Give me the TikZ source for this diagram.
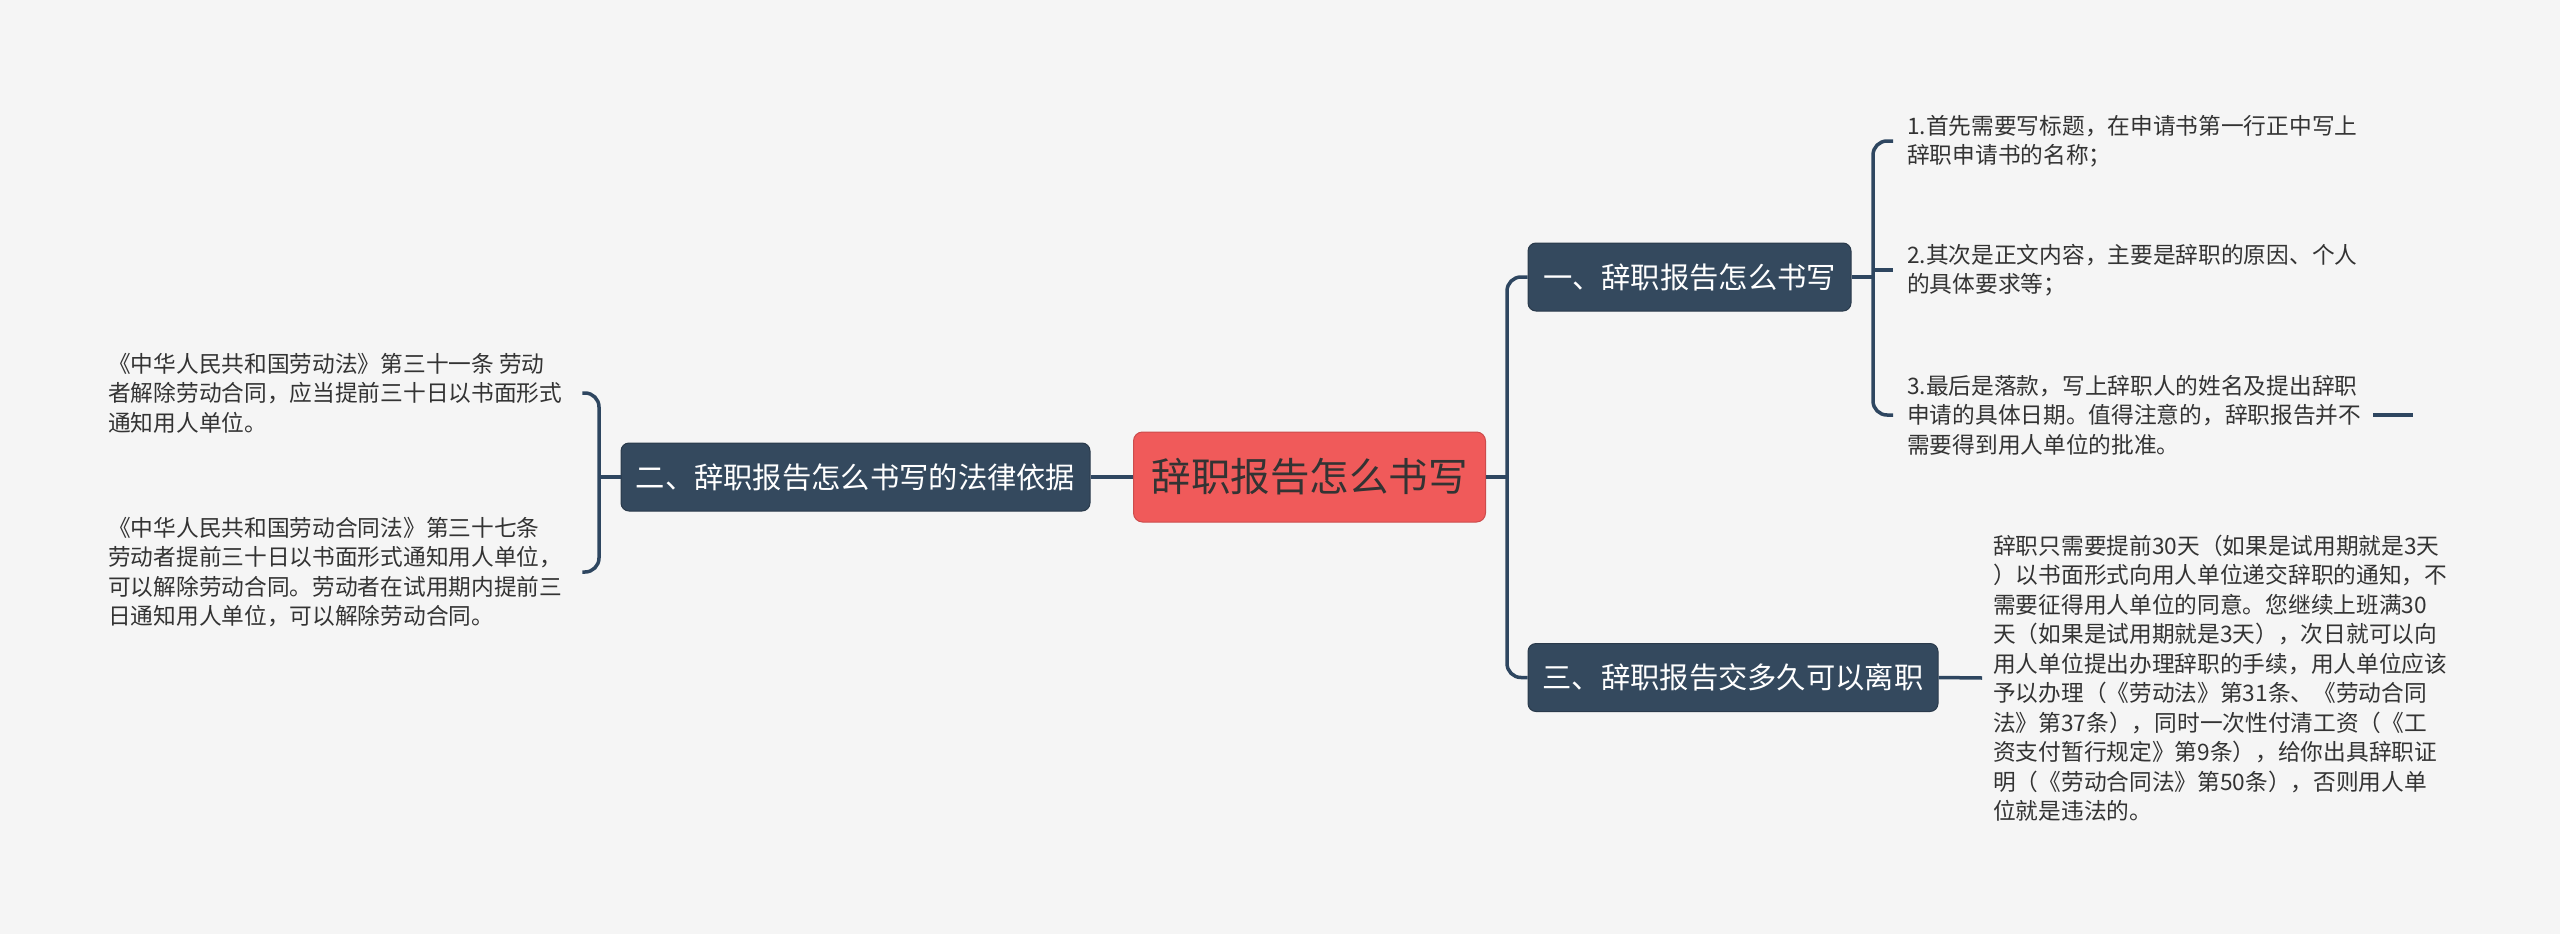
\documentclass[tikz,border=0pt]{standalone}
\usepackage{fontspec}
\setmainfont{Noto Sans CJK SC}
\definecolor{bg}{HTML}{F5F5F5}
\definecolor{navy}{HTML}{34495E}
\definecolor{navyline}{HTML}{2E4660}
\definecolor{redbox}{HTML}{F05A5A}
\definecolor{txt}{HTML}{333333}
\tikzset{
 mainbox/.style={fill=navy, draw=navy!80!black, line width=1pt, rounded corners=8pt, text=white, font=\fontsize{29.3}{34}\selectfont, inner sep=0pt, minimum height=68pt},
 rootbox/.style={fill=redbox, draw=redbox!85!black, line width=1pt, rounded corners=9pt, text=txt, font=\fontsize{39.5}{44}\selectfont, minimum width=352pt, minimum height=90pt, inner sep=0pt},
 leaf/.style={anchor=west, align=left, text=txt, font=\fontsize{22.7}{29.5}\selectfont, inner sep=0pt},
 conn/.style={draw=navyline, line width=3.5pt, rounded corners=14pt}
}
\begin{document}
\begin{tikzpicture}[x=1pt,y=-1pt]
\useasboundingbox (0,0) rectangle (2560,934);
\fill[bg] (0,0) rectangle (2560,934);
% nodes
\node[rootbox] (root) at (1309.5,477) {辞职报告怎么书写};
\node[mainbox, minimum width=469pt] (b2) at (855.5,477) {二、辞职报告怎么书写的法律依据};
\node[mainbox, minimum width=323pt] (b1) at (1689.5,277) {一、辞职报告怎么书写};
\node[mainbox, minimum width=410pt] (b3) at (1733,677.5) {三、辞职报告交多久可以离职};
\node[leaf] (l1) at (108,393) {《中华人民共和国劳动法》第三十一条 劳动\\者解除劳动合同，应当提前三十日以书面形式\\通知用人单位。};
\node[leaf] (l2) at (108,572) {《中华人民共和国劳动合同法》第三十七条\\劳动者提前三十日以书面形式通知用人单位，\\可以解除劳动合同。劳动者在试用期内提前三\\日通知用人单位，可以解除劳动合同。};
\node[leaf] (r1) at (1907,141) {1.首先需要写标题，在申请书第一行正中写上\\辞职申请书的名称；};
\node[leaf] (r2) at (1907,270) {2.其次是正文内容，主要是辞职的原因、个人\\的具体要求等；};
\node[leaf] (r3) at (1907,415) {3.最后是落款，写上辞职人的姓名及提出辞职\\申请的具体日期。值得注意的，辞职报告并不\\需要得到用人单位的批准。};
\node[leaf] (r4) at (1993,678) {辞职只需要提前30天（如果是试用期就是3天\\）以书面形式向用人单位递交辞职的通知，不\\需要征得用人单位的同意。您继续上班满30\\天（如果是试用期就是3天），次日就可以向\\用人单位提出办理辞职的手续，用人单位应该\\予以办理（《劳动法》第31条、《劳动合同\\法》第37条），同时一次性付清工资（《工\\资支付暂行规定》第9条），给你出具辞职证\\明（《劳动合同法》第50条），否则用人单\\位就是违法的。};
% junction coordinates
\coordinate (lj) at (599,477);
\coordinate (tj) at (1507,477);
\coordinate (rv) at (1873,270);
\coordinate (r3s) at (2373,415);
\coordinate (r3e) at (2413,415);
% connectors
\draw[conn] (root.west) -- (b2.east);
\draw[conn] (b2.west) -- (lj);
\draw[conn] ([xshift=20pt]l1.east) -| (lj) |- ([xshift=20pt]l2.east);
\draw[conn] (root.east) -- (tj);
\draw[conn] (b1.west) -| (tj) |- (b3.west);
\draw[conn] (b1.east) -- (b1.east -| rv);
\draw[conn] ([xshift=-14pt]r1.west) -| (rv) |- ([xshift=-14pt]r3.west);
\draw[conn] (rv) -- ([xshift=-14pt]r2.west);
\draw[conn] (r3s) -- (r3e);
\draw[conn] (b3.east) -- ([xshift=-11pt]r4.west);
\end{tikzpicture}
\end{document}
